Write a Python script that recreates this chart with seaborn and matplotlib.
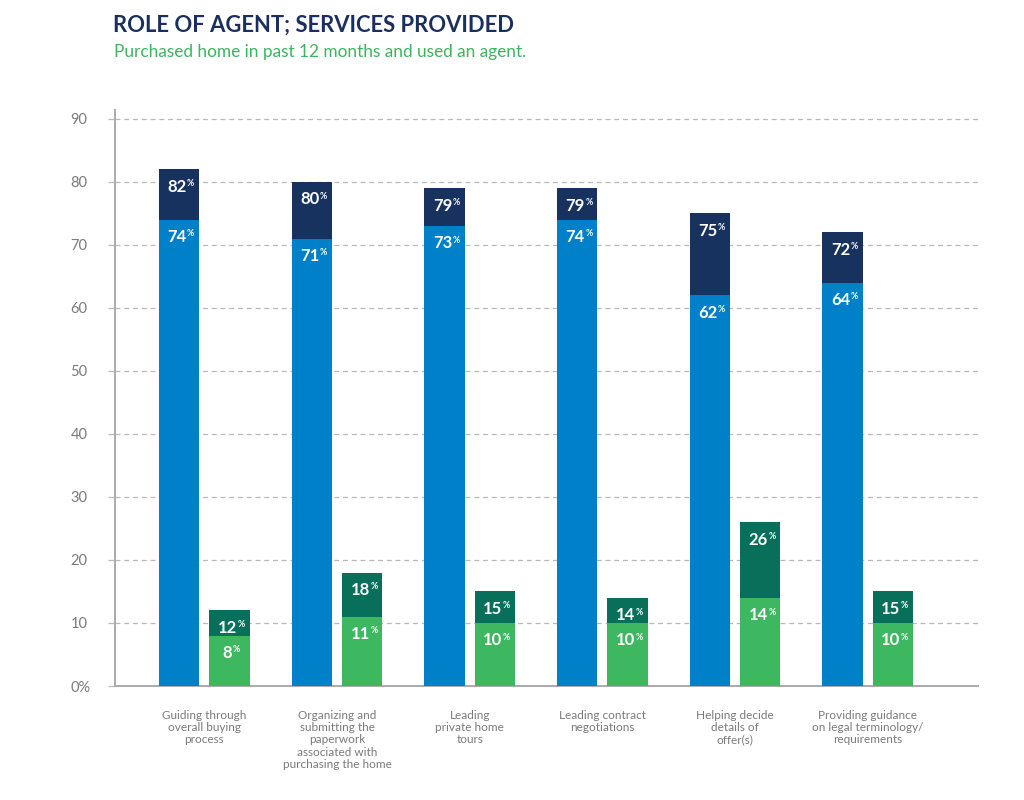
import matplotlib
matplotlib.use("Agg")
import matplotlib.pyplot as plt
import seaborn as sns
import pandas as pd

categories = [
    "Guiding through\noverall buying\nprocess",
    "Organizing and\nsubmitting the\npaperwork\nassociated with\npurchasing the home",
    "Leading\nprivate home\ntours",
    "Leading contract\nnegotiations",
    "Helping decide\ndetails of\noffer(s)",
    "Providing guidance\non legal terminology/\nrequirements",
]
blue_total = [82, 80, 79, 79, 75, 72]
blue_lower = [74, 71, 73, 74, 62, 64]
green_total = [12, 18, 15, 14, 26, 15]
green_lower = [8, 11, 10, 10, 14, 10]
y_ticks = [0, 10, 20, 30, 40, 50, 60, 70, 80, 90]
y_ticklabels = ["0%", "10", "20", "30", "40", "50", "60", "70", "80", "90"]

series = ["A", "B"]
df = pd.DataFrame({
    "category": categories * 2,
    "series": ["A"] * 6 + ["B"] * 6,
    "total": blue_total + green_total,
    "lower": blue_lower + green_lower,
})

NAVY = "#17325f"
BLUE = "#0080c9"
DGREEN = "#08705a"
LGREEN = "#3db860"
GRAY = "#7a7a7a"

sns.set_theme(style="white")
plt.rcParams["font.family"] = ["Lato", "DejaVu Sans"]

fig = plt.figure(figsize=(10.24, 8.0), dpi=100)
ax = fig.add_axes([0.1123, 0.1425, 0.8427, 0.72])

sns.barplot(data=df, x="category", y="total", hue="series", order=categories,
            hue_order=series, palette=[NAVY, DGREEN], width=0.76, gap=0.2,
            legend=False, ax=ax, saturation=1, zorder=3)
sns.barplot(data=df, x="category", y="lower", hue="series", order=categories,
            hue_order=series, palette=[BLUE, LGREEN], width=0.76, gap=0.2,
            legend=False, ax=ax, saturation=1, zorder=4)

for cont in ax.containers:
    for bar in cont:
        bar.set_edgecolor("none")
        bar.set_linewidth(0)
        cx = bar.get_x() + bar.get_width() / 2
        top = bar.get_y() + bar.get_height()
        val = int(round(top))
        txt = f"{val}"
        half = len(txt) * 3.6
        ax.annotate(txt, xy=(cx, top), xytext=(-1.5, -12.5),
                    textcoords="offset points", ha="center", va="center",
                    color="white", fontsize=12, fontweight="bold", zorder=6)
        ax.annotate("%", xy=(cx, top), xytext=(-1.5 + half + 2.6, -10.3),
                    textcoords="offset points", ha="center", va="center",
                    color="white", fontsize=6.3, fontweight="bold", zorder=6)

ax.set_xlim(-0.674, 5.83)
ax.set_ylim(0, 91.4)
ax.set_yticks(y_ticks)
ax.set_yticklabels(y_ticklabels)
ax.set_xlabel("")
ax.set_ylabel("")

for y in y_ticks[1:]:
    ax.axhline(y, color="#b8b8b8", linestyle=(0, (4, 3)), linewidth=0.9, zorder=1)

ax.tick_params(axis="y", length=5, width=0.9, color="#b8b8b8", pad=27,
               labelsize=10.5, labelcolor=GRAY, left=True)
for lab in ax.get_yticklabels():
    lab.set_ha("left")
ax.tick_params(axis="x", length=0, pad=17, labelsize=8.5, labelcolor=GRAY)
for lab in ax.get_xticklabels():
    lab.set_linespacing(1.15)
    lab.set_va("top")

for s in ["top", "right"]:
    ax.spines[s].set_visible(False)
ax.spines["left"].set_color("#aaaaaa")
ax.spines["left"].set_linewidth(1.4)
ax.spines["bottom"].set_color("#aaaaaa")
ax.spines["bottom"].set_linewidth(1.4)

fig.text(0.110, 0.968, "ROLE OF AGENT; SERVICES PROVIDED", color="#1b2f5e",
         fontsize=15.8, fontweight="bold", ha="left", va="center")
fig.text(0.111, 0.935, "Purchased home in past 12 months and used an agent.",
         color="#3db55e", fontsize=12.4, ha="left", va="center")

fig.savefig("out.png", dpi=100)
